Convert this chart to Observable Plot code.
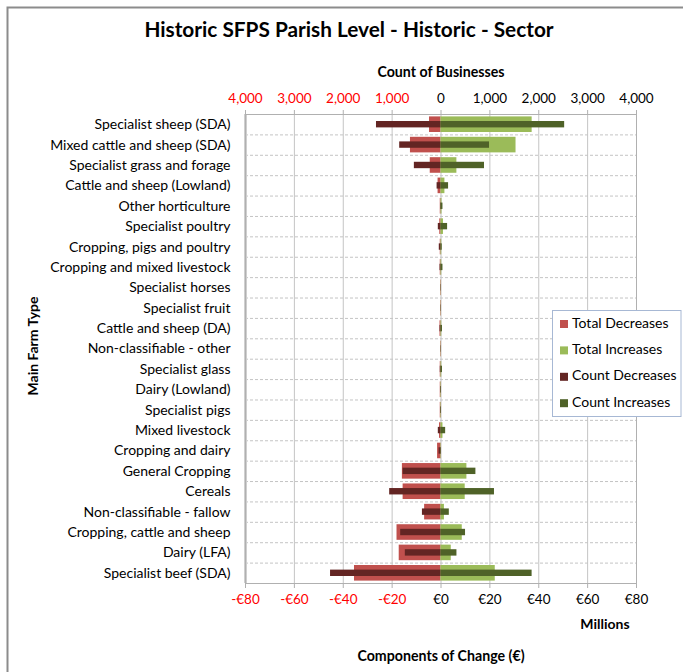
<!DOCTYPE html>
<html>
<head>
<meta charset="utf-8">
<script src="https://cdn.jsdelivr.net/npm/d3@7"></script>
<script src="https://cdn.jsdelivr.net/npm/@observablehq/plot@0.6"></script>
<style>
  html, body { margin: 0; padding: 0; background: white; }
  #chart { width: 683px; height: 672px; overflow: hidden; }
</style>
</head>
<body>
<div id="chart"></div>
<script>
const categories = [
  "Specialist sheep (SDA)", "Mixed cattle and sheep (SDA)", "Specialist grass and forage",
  "Cattle and sheep (Lowland)", "Other horticulture", "Specialist poultry",
  "Cropping, pigs and poultry", "Cropping and mixed livestock", "Specialist horses",
  "Specialist fruit", "Cattle and sheep (DA)", "Non-classifiable - other",
  "Specialist glass", "Dairy (Lowland)", "Specialist pigs", "Mixed livestock",
  "Cropping and dairy", "General Cropping", "Cereals", "Non-classifiable - fallow",
  "Cropping, cattle and sheep", "Dairy (LFA)", "Specialist beef (SDA)"
];
// € millions
const totalDecreases = [-4.7, -12.5, -4.4, -1.2, -0.3, -0.5, -0.3, -0.3, -0.2, -0.2, -0.4, -0.2, -0.3, -0.3, -0.3, -0.6, -1.4, -15.8, -15.5, -6.7, -18.0, -17.1, -35.4];
const totalIncreases = [37.3, 30.7, 6.5, 1.6, 0.4, 1.0, 0.3, 0.3, 0.1, 0.1, 0.3, 0.1, 0.3, 0.2, 0.2, 0.8, 0.2, 10.6, 9.9, 1.4, 8.7, 4.2, 22.2];
// number of businesses
const countDecreases = [-1320, -845, -545, -80, -10, -55, -35, -20, -5, -5, -20, -5, -15, -10, -10, -55, -40, -775, -1050, -380, -825, -730, -2260];
const countIncreases = [2530, 993, 890, 155, 40, 135, 25, 40, 5, 5, 30, 5, 30, 10, 10, 95, 10, 714, 1094, 170, 502, 326, 1864];

const euroTicks = [-80, -60, -40, -20, 0, 20, 40, 60, 80];
const countTicks = [-4000, -3000, -2000, -1000, 0, 1000, 2000, 3000, 4000];
const seriesNames = ["Total Decreases", "Total Increases", "Count Decreases", "Count Increases"];
const seriesColors = ["#C0504D", "#9BBB59", "#632523", "#4F6228"];

// secondary (count) axis: 4,000 businesses aligned with €80M
const countPerMillion = 4000 / 80;

const rows = categories.map((c, i) => ({
  cat: c,
  td: totalDecreases[i],
  ti: totalIncreases[i],
  cd: countDecreases[i] / countPerMillion,
  ci: countIncreases[i] / countPerMillion
}));

const W = 683, H = 672, mL = 245, mR = 47, mT = 114, mB = 89;
const bw = (H - mT - mB) / categories.length;
const font = "Lato, 'Open Sans', sans-serif";

const fmtCount = d => Math.abs(d * countPerMillion).toLocaleString("en-US");
const fmtEuro = d => d < 0 ? "-€" + (-d) : "€" + d;

const chart = Plot.plot({
  width: W, height: H,
  marginLeft: mL, marginRight: mR, marginTop: mT, marginBottom: mB,
  style: { fontFamily: font, fontSize: "13px", background: "white", color: "#000" },
  x: { domain: [-80, 80] },
  y: { domain: categories, padding: 0, round: false },
  marks: [
    Plot.ruleX(euroTicks, { stroke: "#c4c4c4" }),
    Plot.ruleY(categories.slice(0, -1), { dy: bw / 2, stroke: "#c4c4c4", strokeDasharray: "3,2" }),
    Plot.ruleX([-80], { stroke: "#cfcfcf", strokeWidth: 3 }),
    Plot.frame({ stroke: "#b0b0b0" }),
    Plot.barX(rows, { x1: 0, x2: "td", y: "cat", fill: seriesColors[0], insetTop: 2.4, insetBottom: 2.4 }),
    Plot.barX(rows, { x1: 0, x2: "ti", y: "cat", fill: seriesColors[1], insetTop: 2.4, insetBottom: 2.4 }),
    Plot.barX(rows, { x1: 0, x2: "cd", y: "cat", fill: seriesColors[2], insetTop: 7, insetBottom: 7 }),
    Plot.barX(rows, { x1: 0, x2: "ci", y: "cat", fill: seriesColors[3], insetTop: 7, insetBottom: 7 }),
    Plot.axisY({ tickSize: 0, tickPadding: 15, label: null, fontSize: 14 }),
    Plot.axisX({ anchor: "top", ticks: euroTicks.filter(d => d < 0), tickFormat: fmtCount, tickSize: 5, tickPadding: 7, stroke: "#b0b0b0", fill: "#ff0000", label: null, fontSize: 13.5 }),
    Plot.axisX({ anchor: "top", ticks: euroTicks.filter(d => d >= 0), tickFormat: fmtCount, tickSize: 5, tickPadding: 7, stroke: "#b0b0b0", fill: "#000", label: null, fontSize: 13.5 }),
    Plot.axisX({ anchor: "bottom", ticks: euroTicks.filter(d => d < 0), tickFormat: fmtEuro, tickSize: 5, tickPadding: 6, stroke: "#b0b0b0", fill: "#ff0000", label: null, fontSize: 13.5 }),
    Plot.axisX({ anchor: "bottom", ticks: euroTicks.filter(d => d >= 0), tickFormat: fmtEuro, tickSize: 5, tickPadding: 6, stroke: "#b0b0b0", fill: "#000", label: null, fontSize: 13.5 })
  ]
});

const svg = d3.select(chart);
// outer chart-area border
svg.insert("rect", ":first-child")
  .attr("x", 7.5).attr("y", 7.5).attr("width", 720).attr("height", 720)
  .attr("fill", "white").attr("stroke", "#8c8c8c").attr("stroke-width", 2);

const addText = (txt, x, y, size, opts = {}) => {
  const t = svg.append("text").text(txt)
    .attr("x", x).attr("y", y)
    .attr("font-family", font).attr("font-size", size)
    .attr("font-weight", opts.weight || "bold")
    .attr("text-anchor", opts.anchor || "middle")
    .attr("dominant-baseline", "middle")
    .attr("fill", "#000");
  if (opts.rotate) t.attr("transform", `rotate(-90 ${x} ${y})`);
  return t;
};
addText("Historic SFPS Parish Level - Historic - Sector", 349, 32, 20.8);
addText("Count of Businesses", 441, 73, 14.2);
addText("Millions", 605, 625, 14);
addText("Components of Change (€)", 441, 657, 14.2);
addText("Main Farm Type", 34, 346, 14, { rotate: true });

// legend
const lg = svg.append("g");
lg.append("rect").attr("x", 552.5).attr("y", 310.5).attr("width", 128.5).attr("height", 106)
  .attr("fill", "white").attr("stroke", "#a7b8d4");
seriesNames.forEach((name, i) => {
  const cy = 324 + i * 26.4;
  lg.append("rect").attr("x", 560).attr("y", cy - 4).attr("width", 8).attr("height", 8).attr("fill", seriesColors[i]);
  lg.append("text").text(name).attr("x", 572).attr("y", cy)
    .attr("font-family", font).attr("font-size", 14)
    .attr("text-anchor", "start")
    .attr("dominant-baseline", "middle").attr("fill", "#000");
});

document.getElementById("chart").appendChild(chart);
</script>
</body>
</html>
